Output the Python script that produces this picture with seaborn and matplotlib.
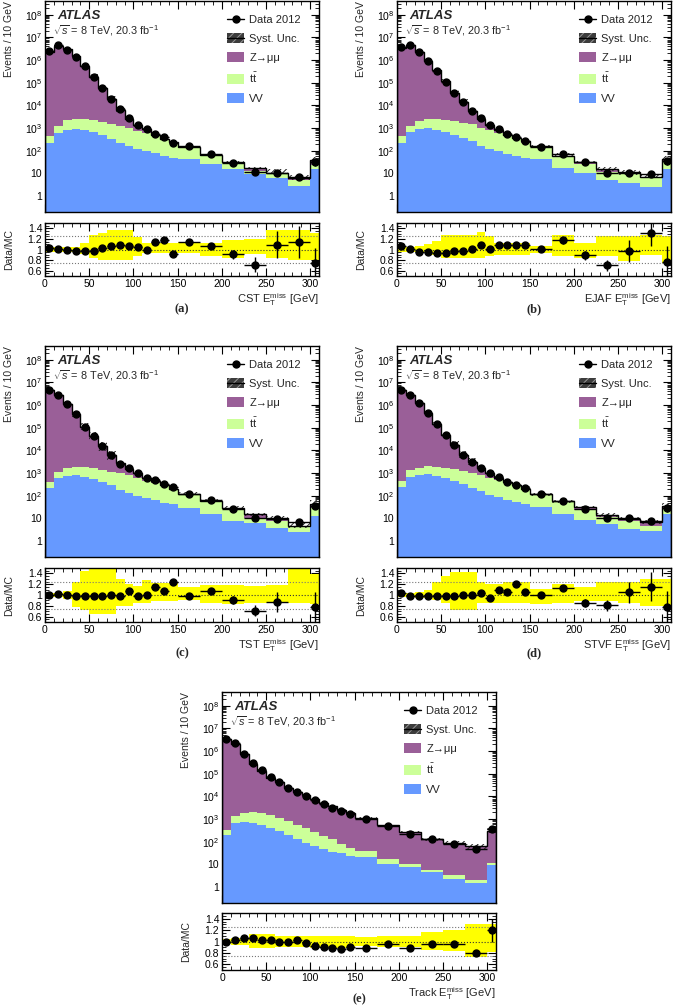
import numpy as np
import pandas as pd
import matplotlib
matplotlib.use("Agg")
import matplotlib.pyplot as plt
import seaborn as sns
from matplotlib.lines import Line2D
from matplotlib.patches import Patch
from matplotlib.ticker import FixedLocator, LogLocator, MultipleLocator, NullFormatter, FuncFormatter

sns.set_theme(style="ticks")
plt.rcParams["font.family"] = ["Liberation Sans", "DejaVu Sans"]
plt.rcParams["mathtext.fontset"] = "custom"
plt.rcParams["mathtext.rm"] = "Liberation Sans"
plt.rcParams["mathtext.it"] = "Liberation Sans:italic"
plt.rcParams["mathtext.bf"] = "Liberation Sans:bold"
plt.rcParams["hatch.linewidth"] = 0.7
plt.rcParams["axes.edgecolor"] = "black"
plt.rcParams["xtick.color"] = "black"
plt.rcParams["ytick.color"] = "black"

# ─── Binning ────────────────────────────────────────────────────────────────
edges = [0, 10, 20, 30, 40, 50, 60, 70, 80, 90, 100, 110, 120, 130, 140, 150,
         175, 200, 225, 250, 275, 300, 310]

# ─── (a) CST ────────────────────────────────────────────────────────────────
data_a = [2.4e6, 4.4e6, 2.9e6, 1.4e6, 5.3e5, 1.8e5, 5.9e4, 2.0e4, 7.0e3, 2.8e3, 1.4e3,
          870, 560, 400, 224, 160, 69, 27.5, 11.8, 10.7, 7.1, 31]
ratio_a = [1.03, 1.01, 0.99, 0.97, 0.97, 0.97, 1.02, 1.06, 1.09, 1.06, 1.05,
           1.00, 1.14, 1.17, 0.92, 1.14, 1.075, 0.91, 0.71, 1.09, 1.14, 0.75]
rerr_a = [0.005, 0.005, 0.005, 0.005, 0.005, 0.005, 0.006, 0.008, 0.012, 0.015, 0.02,
          0.02, 0.025, 0.03, 0.035, 0.03, 0.05, 0.09, 0.14, 0.25, 0.3, 0.28]
vv_a = [224, 617, 865, 925, 865, 660, 520, 315, 224, 160, 114,
        96, 76, 58, 49, 44, 25, 16, 9, 6.4, 2.8, 15]
tt_a = [246, 683, 1375, 1625, 1535, 1580, 1300, 1275, 1076, 860, 666,
        521, 364, 278, 191, 90, 37, 12, 3.6, 3.6, 2.6, 8]
zmm_a = [2.33e6, 4.36e6, 2.93e6, 1.44e6, 5.44e5, 1.84e5, 5.6e4, 1.73e4, 5.1e3, 1.62e3, 550,
         250, 50, 8, 5, 6, 3, 2.5, 4, 1, 1, 18]
up_a = [0.04, 0.04, 0.04, 0.04, 0.12, 0.27, 0.31, 0.36, 0.36, 0.36, 0.23,
        0.12, 0.12, 0.12, 0.12, 0.15, 0.12, 0.17, 0.19, 0.36, 0.36, 0.31]
dn_a = [0.04, 0.04, 0.04, 0.04, 0.09, 0.16, 0.19, 0.19, 0.19, 0.19, 0.12,
        0.06, 0.06, 0.06, 0.06, 0.06, 0.12, 0.16, 0.09, 0.16, 0.19, 0.2]

# ─── (b) EJAF ───────────────────────────────────────────────────────────────
data_b = [3.6e6, 4.8e6, 2.2e6, 8.9e5, 3.2e5, 1.05e5, 3.6e4, 1.4e4, 5.5e3, 2.8e3, 1.4e3,
          930, 560, 410, 280, 144, 69, 31, 10.6, 10, 9, 35]
ratio_b = [1.075, 1.01, 0.96, 0.95, 0.925, 0.93, 0.97, 0.97, 1.01, 1.09, 1.01,
           1.09, 1.08, 1.08, 1.09, 1.01, 1.17, 0.89, 0.70, 0.97, 1.31, 0.77]
rerr_b = [0.005, 0.005, 0.005, 0.005, 0.005, 0.005, 0.006, 0.008, 0.012, 0.015, 0.02,
          0.02, 0.025, 0.03, 0.035, 0.03, 0.06, 0.08, 0.1, 0.2, 0.25, 0.3]
vv_b = [224, 660, 925, 1020, 865, 660, 520, 370, 265, 160, 114,
        96, 69, 58, 49, 42, 18, 10, 5.4, 3.9, 2.6, 15]
tt_b = [216, 640, 1075, 1380, 1535, 1580, 1480, 1330, 1175, 860, 696,
        521, 371, 257, 175, 118, 40, 15, 6, 6.7, 3.4, 20]
zmm_b = [3.35e6, 4.75e6, 2.29e6, 9.4e5, 3.44e5, 1.11e5, 3.5e4, 1.27e4, 4.0e3, 1.55e3, 580,
         236, 79, 65, 33, 3, 1.5, 8, 3.6, 0.5, 0.9, 10]
up_b = [0.04, 0.04, 0.06, 0.1, 0.16, 0.28, 0.28, 0.28, 0.28, 0.33, 0.25,
        0.125, 0.125, 0.125, 0.125, 0.07, 0.28, 0.12, 0.25, 0.25, 0.28, 0.25]
dn_b = [0.04, 0.04, 0.04, 0.05, 0.1, 0.16, 0.16, 0.16, 0.16, 0.16, 0.12,
        0.1, 0.1, 0.1, 0.1, 0.07, 0.12, 0.16, 0.12, 0.22, 0.1, 0.25]

# ─── (c) TST ────────────────────────────────────────────────────────────────
data_c = [4.7e6, 2.8e6, 1.1e6, 3.9e5, 1.1e5, 4.2e4, 1.5e4, 6.1e3, 2.6e3, 1.6e3, 980,
          630, 500, 325, 240, 124, 64, 27, 11, 9, 7.3, 35]
ratio_c = [1.0, 1.02, 1.0, 0.99, 0.98, 0.98, 0.99, 1.0, 0.98, 1.07, 0.98,
           1.0, 1.15, 1.08, 1.24, 0.99, 1.08, 0.91, 0.71, 0.87, np.nan, 0.77]
rerr_c = [0.005, 0.005, 0.005, 0.005, 0.005, 0.005, 0.006, 0.008, 0.012, 0.015, 0.02,
          0.02, 0.025, 0.03, 0.035, 0.03, 0.05, 0.07, 0.1, 0.18, 0.3, 0.28]
vv_c = [219, 590, 775, 830, 700, 550, 425, 285, 185, 133, 101,
        76, 62, 49, 42, 30, 15, 7.9, 6, 3.8, 2.5, 13]
tt_c = [206, 490, 925, 1070, 1200, 1150, 925, 865, 795, 697, 489,
        394, 298, 211, 162, 90, 43, 17, 5, 4.1, 1.8, 17]
zmm_c = [4.7e6, 2.75e6, 1.1e6, 3.92e5, 1.1e5, 4.1e4, 1.38e4, 4.95e3, 1.67e3, 670, 410,
         160, 75, 41, 5, 5, 1, 5, 4.5, 2.4, 0.3, 15]
up_c = [0.04, 0.04, 0.07, 0.25, 0.45, 0.55, 0.55, 0.55, 0.3, 0.2, 0.17,
        0.28, 0.22, 0.22, 0.22, 0.15, 0.19, 0.19, 0.17, 0.19, 0.55, 0.38]
dn_c = [0.04, 0.04, 0.07, 0.22, 0.28, 0.35, 0.35, 0.35, 0.2, 0.2, 0.15,
        0.14, 0.12, 0.12, 0.12, 0.1, 0.14, 0.16, 0.14, 0.15, 0.14, 0.16]

# ─── (d) STVF ───────────────────────────────────────────────────────────────
data_d = [4.7e6, 2.8e6, 1.25e6, 4.3e5, 1.4e5, 4.8e4, 1.8e4, 6.5e3, 3.1e3, 1.7e3, 980,
          700, 425, 305, 219, 120, 58, 27, 11, 10.2, 7.9, 28]
ratio_d = [1.03, 0.98, 0.98, 0.98, 0.98, 0.98, 0.99, 1.0, 1.0, 1.03, 0.95,
           1.1, 1.05, 1.2, 1.05, 1.0, 1.13, 0.85, 0.81, 1.05, 1.15, 0.77]
rerr_d = [0.005, 0.005, 0.005, 0.005, 0.005, 0.005, 0.006, 0.008, 0.012, 0.015, 0.02,
          0.02, 0.025, 0.03, 0.035, 0.03, 0.06, 0.07, 0.1, 0.2, 0.27, 0.3]
vv_d = [236, 700, 830, 890, 775, 590, 455, 325, 219, 156, 113,
        86, 68, 54, 45, 32, 15, 8.4, 5.6, 3.4, 2.7, 15]
tt_d = [219, 660, 870, 1200, 1125, 1110, 1045, 905, 831, 674, 517,
        414, 292, 231, 159, 81, 39, 14.6, 6.1, 4.5, 2.1, 10]
zmm_d = [4.56e6, 2.86e6, 1.28e6, 4.37e5, 1.41e5, 4.7e4, 1.67e4, 5.3e3, 2.05e3, 820, 400,
         136, 45, 5, 5, 7, 2, 9, 2, 1.8, 2.1, 11]
up_d = [0.04, 0.04, 0.05, 0.1, 0.25, 0.35, 0.42, 0.42, 0.42, 0.25, 0.2,
        0.2, 0.25, 0.25, 0.25, 0.12, 0.2, 0.15, 0.25, 0.25, 0.3, 0.3]
dn_d = [0.04, 0.04, 0.05, 0.06, 0.1, 0.15, 0.28, 0.28, 0.28, 0.15, 0.15,
        0.15, 0.15, 0.15, 0.15, 0.17, 0.15, 0.12, 0.12, 0.15, 0.2, 0.2]

# ─── (e) Track ──────────────────────────────────────────────────────────────
data_e = [3.4e6, 2.2e6, 7.7e5, 2.9e5, 1.4e5, 6.9e4, 4.2e4, 2.4e4, 1.6e4, 1.07e4, 7.2e3,
          4.7e3, 3.2e3, 2.3e3, 1.6e3, 1.0e3, 500, 230, 126, 82, 50, 370]
ratio_e = [0.99, 1.03, 1.06, 1.07, 1.03, 1.03, 0.99, 1.0, 1.02, 0.97, 0.92,
           0.90, 0.89, 0.87, 0.90, 0.88, 0.955, 0.88, 0.955, 0.955, 0.80, 1.2]
rerr_e = [0.004, 0.004, 0.004, 0.004, 0.004, 0.004, 0.004, 0.005, 0.005, 0.006, 0.007,
          0.008, 0.01, 0.01, 0.012, 0.01, 0.015, 0.02, 0.025, 0.03, 0.04, 0.2]
vv_e = [206, 650, 770, 700, 550, 400, 290, 206, 126, 91, 65,
        50, 37, 31, 24, 21, 10.7, 7.7, 4.7, 2.4, 1.6, 9.1]
tt_e = [134, 730, 1180, 1350, 1400, 1080, 850, 614, 424, 309, 205,
        125, 89, 51, 31, 19, 6.8, 2.3, 0.8, 1.0, 0.5, 2.3]
zmm_e = [3.43e6, 2.14e6, 7.24e5, 2.69e5, 1.34e5, 6.55e4, 4.13e4, 2.32e4, 1.52e4, 1.06e4, 7.5e3,
         5.0e3, 3.5e3, 2.56e3, 1.72e3, 1.1e3, 506, 251, 126, 83, 60, 297]
up_e = [0.05, 0.06, 0.06, 0.13, 0.13, 0.13, 0.1, 0.1, 0.1, 0.1, 0.1,
        0.1, 0.1, 0.1, 0.1, 0.08, 0.1, 0.1, 0.17, 0.21, 0.31, 0.3]
dn_e = [0.05, 0.06, 0.06, 0.12, 0.12, 0.12, 0.1, 0.1, 0.1, 0.1, 0.11,
        0.11, 0.11, 0.11, 0.11, 0.08, 0.1, 0.1, 0.15, 0.17, 0.28, 0.19]

# ─── Style ──────────────────────────────────────────────────────────────────
procs = ["Z->mumu", "ttbar", "VV"]
palette = {"Z->mumu": "#9a5f98", "ttbar": "#ccff99", "VV": "#6699ff"}
W, H = 673, 1007
edges_arr = np.array(edges, dtype=float)
centers = 0.5 * (edges_arr[1:] + edges_arr[:-1])
halfw = 0.5 * np.diff(edges_arr)


def add_ax(fig, x0, x1, y0, y1):
    return fig.add_axes([x0 / W, 1 - y1 / H, (x1 - x0) / W, (y1 - y0) / H])


def log_label(v, pos):
    if v == 1:
        return "1"
    if v == 10:
        return "10"
    return r"$10^{%d}$" % round(np.log10(v))


def legend_handles():
    return [
        Line2D([], [], color="black", marker="o", ms=5, lw=1),
        (Patch(facecolor="#3c3c3c", edgecolor="#999999", hatch="////", lw=0),
         Line2D([], [], color="black", lw=1)),
        Patch(facecolor=palette["Z->mumu"], lw=0),
        Patch(facecolor=palette["ttbar"], lw=0),
        Patch(facecolor=palette["VV"], lw=0),
    ]


legend_labels = ["Data 2012", "Syst. Unc.", "Z\u2192\u03bc\u03bc",
                 r"$\mathrm{t\bar{t}}$", "VV"]


def draw_panel(fig, xpx, ypx, vv, tt, zmm, data, ratio, rerr, up, dn, xname, tag, tag_off):
    x0, x1 = xpx
    m0, m1, r0, r1 = ypx
    ax = add_ax(fig, x0, x1, m0, m1)
    rax = add_ax(fig, x0, x1, r0, r1)

    # stacked backgrounds
    df = pd.DataFrame({
        "met": np.tile(centers, 3),
        "events": np.concatenate([zmm, tt, vv]),
        "process": np.repeat(procs, len(centers)),
    })
    sns.histplot(data=df, x="met", weights="events", hue="process", hue_order=procs,
                 palette=palette, bins=edges, multiple="stack", element="step",
                 alpha=1, linewidth=0, legend=False, ax=ax)

    total = np.array(vv) + np.array(tt) + np.array(zmm)
    up = np.array(up)
    dn = np.array(dn)
    ax.stairs(total * (1 + up), edges, baseline=total * (1 - dn), fill=True,
              facecolor="none", edgecolor="#222222", hatch="//////", linewidth=0)
    ax.stairs(total, edges, color="black", linewidth=1)
    data = np.array(data)
    ax.errorbar(centers, data, xerr=halfw, yerr=data * np.array(rerr), fmt="o",
                color="black", ms=5, lw=1, capsize=0, zorder=5)

    ax.set_yscale("log")
    ax.set_xlim(0, 310)
    ax.set_ylim(0.2, 4e8)
    ax.yaxis.set_major_locator(FixedLocator([10.0 ** k for k in range(0, 9)]))
    ax.yaxis.set_major_formatter(FuncFormatter(log_label))
    ax.yaxis.set_minor_locator(LogLocator(base=10, subs=np.arange(2, 10), numticks=30))
    ax.yaxis.set_minor_formatter(NullFormatter())
    ax.xaxis.set_major_locator(MultipleLocator(50))
    ax.xaxis.set_minor_locator(MultipleLocator(10))
    ax.set_xticklabels([])
    ax.set_xlabel("")
    ax.set_ylabel("Events / 10 GeV", fontsize=7.5, loc="top")
    ax.yaxis.set_label_coords(-0.112, 1.0)

    ax.text(0.044, 0.93, "ATLAS", transform=ax.transAxes, fontsize=9.5,
            fontweight="bold", fontstyle="italic", va="center", ha="left")
    ax.text(0.03, 0.862, r"$\sqrt{s}$ = 8 TeV, 20.3 fb$^{-1}$", transform=ax.transAxes,
            fontsize=7.8, va="center", ha="left")
    ax.legend(legend_handles(), legend_labels, loc="upper left",
              bbox_to_anchor=(0.665, 0.935), frameon=False, fontsize=8,
              borderpad=0, borderaxespad=0, labelspacing=0.72,
              handlelength=1.55, handleheight=1.0, handletextpad=0.45)

    # ratio panel
    rax.stairs(1 + up, edges, baseline=1 - dn, fill=True, color="#ffff00", linewidth=0)
    rax.axhline(1.25, color="#777777", ls=":", lw=0.8)
    rax.axhline(0.75, color="#777777", ls=":", lw=0.8)
    rax.axhline(1.0, color="#333333", ls=":", lw=0.8)
    rax.errorbar(centers, ratio, xerr=halfw, yerr=rerr, fmt="o", color="black",
                 ms=5, lw=1, capsize=0, zorder=5)
    rax.set_xlim(0, 310)
    rax.set_ylim(0.5, 1.5)
    rax.set_yticks([0.6, 0.8, 1.0, 1.2, 1.4])
    rax.set_yticklabels(["0.6", "0.8", "1", "1.2", "1.4"])
    rax.yaxis.set_minor_locator(MultipleLocator(0.05))
    rax.xaxis.set_major_locator(MultipleLocator(50))
    rax.xaxis.set_minor_locator(MultipleLocator(10))
    rax.set_ylabel("Data/MC", fontsize=7.5)
    rax.yaxis.set_label_coords(-0.112, 0.5)

    for a in (ax, rax):
        a.tick_params(which="both", direction="in", top=True, right=True,
                      labelsize=7.5, pad=2)
        a.tick_params(which="major", length=6, width=0.8)
        a.tick_params(which="minor", length=3, width=0.6)
        for s in a.spines.values():
            s.set_linewidth(1)

    fig.text(x1 / W, 1 - (r1 + 24) / H,
             xname + r" $\mathrm{E}_{\mathrm{T}}^{\mathrm{miss}}$ [GeV]",
             fontsize=8, ha="right", va="center")
    fig.text((x0 + x1) / 2 / W, 1 - (r1 + tag_off) / H, tag, fontsize=9,
             fontweight="bold", family="Liberation Serif", ha="center", va="center")


fig = plt.figure(figsize=(6.73, 10.07), dpi=100)

draw_panel(fig, (45, 319), (1, 212, 223, 276), vv_a, tt_a, zmm_a, data_a, ratio_a,
           rerr_a, up_a, dn_a, "CST", "(a)", 33)
draw_panel(fig, (397, 671), (1, 212, 223, 276), vv_b, tt_b, zmm_b, data_b, ratio_b,
           rerr_b, up_b, dn_b, "EJAF", "(b)", 33)
draw_panel(fig, (45, 319), (346, 557, 568, 622), vv_c, tt_c, zmm_c, data_c, ratio_c,
           rerr_c, up_c, dn_c, "TST", "(c)", 31)
draw_panel(fig, (397, 671), (346, 557, 568, 622), vv_d, tt_d, zmm_d, data_d, ratio_d,
           rerr_d, up_d, dn_d, "STVF", "(d)", 31)
draw_panel(fig, (222, 496), (692, 903, 913, 970), vv_e, tt_e, zmm_e, data_e, ratio_e,
           rerr_e, up_e, dn_e, "Track", "(e)", 29)

fig.savefig("out.png", dpi=100)
